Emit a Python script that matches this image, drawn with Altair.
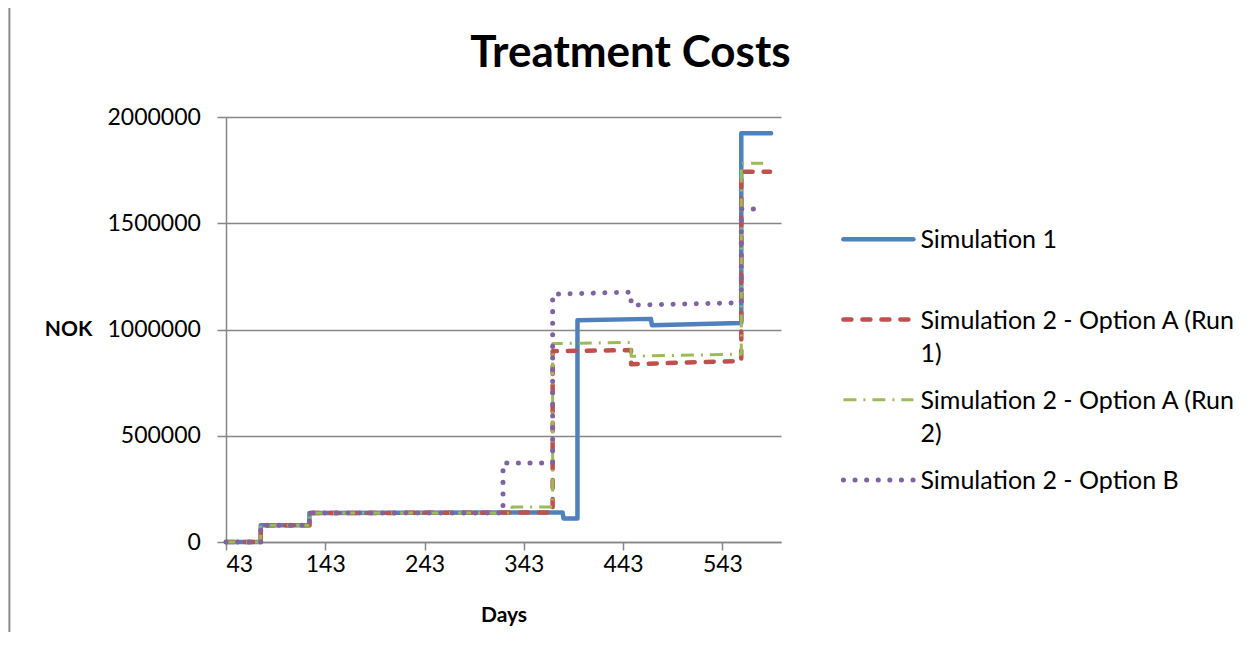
import altair as alt
import pandas as pd

# ---------------- data ----------------
series_names = [
    "Simulation 1",
    "Simulation 2 - Option A (Run 1)",
    "Simulation 2 - Option A (Run 2)",
    "Simulation 2 - Option B",
]
legend_labels = [
    "Simulation 1",
    "Simulation 2 - Option A (Run\n1)",
    "Simulation 2 - Option A (Run\n2)",
    "Simulation 2 - Option B",
]

sim1_days = [43, 78, 78, 127, 127, 382, 383, 397, 397, 471, 472, 562, 562, 592]
sim1_cost = [0, 0, 79000, 79000, 136000, 139000, 111000, 111000, 1044000, 1050000,
             1020000, 1031000, 1923000, 1923000]

runA1_days = [43, 78, 78, 127, 127, 372, 372, 451, 451, 562, 562, 591]
runA1_cost = [0, 0, 79000, 79000, 136000, 139000, 898000, 903000, 837000, 852000,
              1742000, 1742000]

runA2_days = [43, 78, 78, 127, 127, 331, 331, 372, 372, 451, 451, 562, 562, 584]
runA2_cost = [0, 0, 79000, 79000, 136000, 137000, 165000, 165000, 934000, 939000,
              874000, 884000, 1782000, 1782000]

optB_days = [43, 78, 78, 127, 127, 322, 322, 372, 372, 451, 451, 562, 562, 581]
optB_cost = [0, 0, 79000, 79000, 136000, 137000, 372000, 372000, 1166000, 1176000,
             1115000, 1126000, 1567000, 1567000]

x_ticks = [43, 143, 243, 343, 443, 543]
y_ticks = [0, 500000, 1000000, 1500000, 2000000]

colors = ["#4F81BD", "#C0504D", "#9BBB59", "#8064A2"]

# ---------------- tables ----------------
rows = []
for name, days, cost in zip(series_names,
                            [sim1_days, runA1_days, runA2_days, optB_days],
                            [sim1_cost, runA1_cost, runA2_cost, optB_cost]):
    for i, (d, c) in enumerate(zip(days, cost)):
        rows.append({"series": name, "seq": i, "day": d, "cost": c})
df = pd.DataFrame(rows)

leg_df = pd.DataFrame({"series": series_names, "label": legend_labels,
                       "idx": list(range(len(series_names)))})
one = pd.DataFrame({"k": [0]})

FONT = "Lato"
GRAY = "#868686"

styles = [
    dict(strokeWidth=4.5, strokeCap="round"),
    dict(strokeWidth=4.5, strokeDash=[8, 11], strokeCap="round"),
    dict(strokeWidth=3, strokeDash=[13, 7, 2, 7], strokeCap="butt"),
    dict(strokeWidth=5, strokeDash=[0.1, 11.5], strokeCap="round"),
]

x_enc = alt.X("day:Q",
              scale=alt.Scale(domain=[43, 602], nice=False, zero=False),
              axis=alt.Axis(values=x_ticks, title="Days", grid=False,
                            labelFont=FONT, labelFontSize=23, labelColor="black",
                            labelPadding=3, tickSize=8, tickColor=GRAY, tickWidth=1.5,
                            domainColor=GRAY, domainWidth=1.5,
                            titleFont=FONT, titleFontSize=21, titleFontWeight="bold",
                            titleColor="black", titleX=277.5, titleY=79,
                            titleBaseline="alphabetic", titleAlign="center"))
y_enc = alt.Y("cost:Q",
              scale=alt.Scale(domain=[0, 2000000], nice=False),
              axis=alt.Axis(values=y_ticks, format="d", title="NOK", grid=True,
                            gridColor=GRAY, gridWidth=1.5,
                            labelFont=FONT, labelFontSize=23, labelColor="black",
                            labelPadding=16.6, tickSize=9, tickColor=GRAY, tickWidth=1.5,
                            domainColor=GRAY, domainWidth=1.5,
                            titleFont=FONT, titleFontSize=21, titleFontWeight="bold",
                            titleColor="black", titleAngle=0, titleX=-158, titleY=212,
                            titleAlign="center", titleBaseline="middle"))

line_layers = []
for name, col, st in zip(series_names, colors, styles):
    line_layers.append(
        alt.Chart(df).transform_filter(alt.datum.series == name)
        .mark_line(color=col, strokeJoin="round", **st)
        .encode(x=x_enc, y=y_enc, order=alt.Order("seq:Q"))
    )

# chart frame: left edge
frame_left = alt.Chart(one).mark_rect(color="#8a8a8a", strokeWidth=0).encode(
    x=alt.value(-217.6), x2=alt.value(-215.6), y=alt.value(-109), y2=alt.value(515))
title = alt.Chart(one).mark_text(text="Treatment Costs", font=FONT, fontSize=44,
                                 fontWeight="bold", align="center",
                                 baseline="alphabetic", color="black").encode(
    x=alt.value(404.4), y=alt.value(-50))

main = alt.layer(*line_layers, frame_left, title)

# ---------------- legend ----------------
leg_scale = alt.Scale(domain=[-1.524, 3.773], reverse=True, nice=False, zero=False)
leg_layers = []
for name, col, st in zip(series_names, colors, styles):
    leg_layers.append(
        alt.Chart(leg_df).transform_filter(alt.datum.series == name)
        .mark_rule(color=col, **st)
        .encode(x=alt.value(617.4), x2=alt.value(687.4),
                y=alt.Y("idx:Q", scale=leg_scale, axis=None))
    )
leg_text = alt.Chart(leg_df).mark_text(
    align="left", baseline="alphabetic", dy=9, lineBreak="\n", lineHeight=33,
    font=FONT, fontSize=25, color="black").encode(
    x=alt.value(694.4), y=alt.Y("idx:Q", scale=leg_scale, axis=None), text="label:N")
legend = alt.layer(*leg_layers, leg_text)

chart = alt.layer(main, legend).resolve_scale(y="independent").properties(
    width=555, height=425,
    padding={"left": 0, "top": 0, "right": 0, "bottom": 0},
    background="white",
).configure_view(stroke=None)

chart.save("out.html", embed_options={"renderer": "svg", "actions": False})
